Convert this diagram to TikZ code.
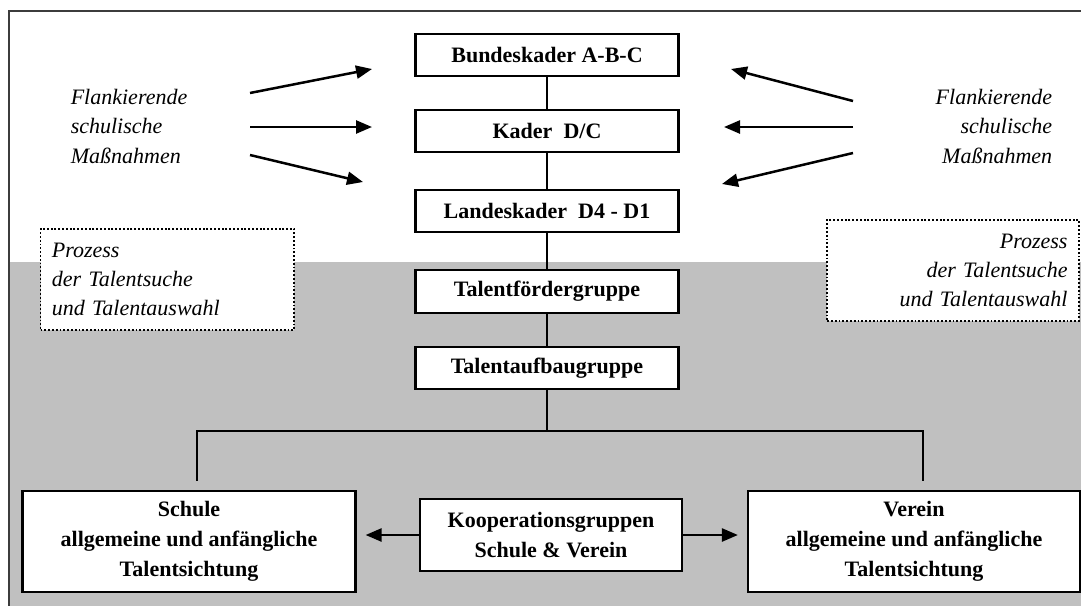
\documentclass[tikz,border=0pt]{standalone}
\usepackage{fontspec}
\setmainfont{Liberation Serif}
\usetikzlibrary{arrows.meta}
\definecolor{bandgray}{HTML}{C0C0C0}
\definecolor{framegray}{HTML}{3C3C3C}
\begin{document}
\begin{tikzpicture}[x=1pt,y=-1pt,
  level/.style={draw=black, line width=2.2pt, fill=white, minimum width=263pt,
    minimum height=42pt, inner sep=0pt, font=\fontsize{22}{30}\selectfont\bfseries},
  stage/.style={draw=black, line width=2.2pt, fill=white, align=center, inner sep=0pt,
    font=\fontsize{22}{30}\selectfont\bfseries},
  link/.style={line width=2.2pt},
  push/.style={line width=2.5pt, -{Triangle[length=16pt,width=13pt]}},
  note/.style={font=\fontsize{22}{29.5}\selectfont\itshape, inner sep=0pt},
  process/.style={draw=black, line width=1.9pt, dash pattern=on 1.9pt off 1.9pt,
    minimum height=101pt, inner xsep=11.4pt, inner ysep=0pt,
    font=\fontsize{22}{29}\selectfont\itshape}
]
\useasboundingbox (0,0) rectangle (1081,605);
\clip (0,0) rectangle (1081,605);

% background: grey lower band and open frame
\fill[bandgray] (9,262) rectangle (1095,615);
\draw[framegray, line width=2pt] (1095,11) -- (9,11) -- (9,615);

% squad levels
\node[level] (bund) at (547,55) {Bundeskader A-B-C};
\node[level] (kader) at (547,131) {Kader~ D/C};
\node[level] (landes) at (547,211) {Landeskader~ D4 - D1};
\node[level, minimum height=43pt] (foerder) at (547,291.5) {Talentfördergruppe};
\node[level] (aufbau) at (547,368) {Talentaufbaugruppe};

% base of the pyramid
\node[stage, minimum width=333pt, minimum height=101pt] (schule) at (189,541.5)
  {Schule\\allgemeine und anfängliche\\Talentsichtung};
\node[stage, minimum width=332pt, minimum height=101pt] (verein) at (914,541.5)
  {Verein\\allgemeine und anfängliche\\Talentsichtung};
\node[stage, minimum width=262.5pt, minimum height=72pt] (koop) at (551,535)
  {Kooperationsgruppen\\Schule \& Verein};

% vertical chain
\draw[link] (bund) -- (kader);
\draw[link] (kader) -- (landes);
\draw[link] (landes) -- (foerder);
\draw[link] (foerder) -- (aufbau);

% branching bus
\coordinate (busL) at (197,431);
\coordinate (busR) at (923,431);
\draw[link] (aufbau.south) -- (aufbau.south |- busL);
\draw[link, shorten <=9pt, shorten >=9pt]
  (schule.north -| busL) -- (busL) -- (busR) -- (verein.north -| busR);

% cooperation arrows
\draw[push, shorten >=9pt] (koop.west) -- (koop.west -| schule.east);
\draw[push, shorten >=9pt] (koop.east) -- (koop.east -| verein.west);

% accompanying school measures
\node[note, align=left, anchor=west] (flankL) at (70.6,126)
  {Flankierende\\schulische\\Maßnahmen};
\node[note, align=right, anchor=east] (flankR) at (1052.4,126)
  {Flankierende\\schulische\\Maßnahmen};

\coordinate (la1) at (250,93);  \coordinate (lb1) at (372,69);
\coordinate (la2) at (250,127); \coordinate (lb2) at (372,127);
\coordinate (la3) at (250,155); \coordinate (lb3) at (363,182);
\coordinate (ra1) at (853,101); \coordinate (rb1) at (731,69);
\coordinate (ra2) at (853,127); \coordinate (rb2) at (724,127);
\coordinate (ra3) at (853,153); \coordinate (rb3) at (722,184);
\draw[push] (la1) -- (lb1);
\draw[push] (la2) -- (lb2);
\draw[push] (la3) -- (lb3);
\draw[push] (ra1) -- (rb1);
\draw[push] (ra2) -- (rb2);
\draw[push] (ra3) -- (rb3);

% talent search process labels
\node[process, fill=white, align=left, text width=231pt] (procL) at (167.4,279.5)
  {Prozess\\der Talentsuche\\und Talentauswahl};
\node[process, fill=white, align=right, text width=229pt] (procR) at (953,270.5)
  {Prozess\\der Talentsuche\\und Talentauswahl};
\end{tikzpicture}
\end{document}
